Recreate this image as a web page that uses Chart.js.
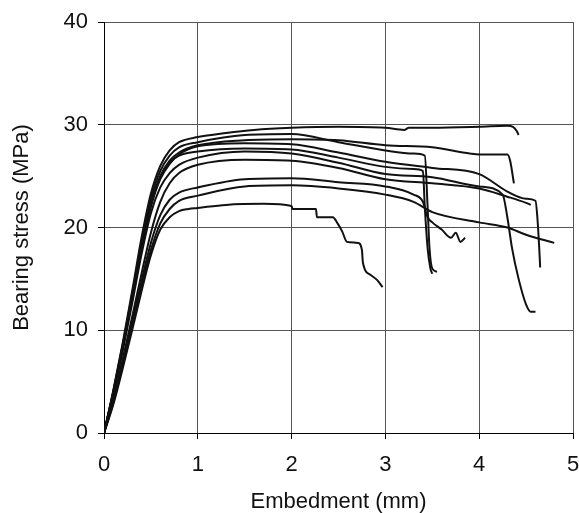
<!DOCTYPE html>
<html>
<head>
<meta charset="utf-8">
<script src="https://cdn.jsdelivr.net/npm/chart.js@4.4.1/dist/chart.umd.min.js"></script>
<style>
  body { margin: 0; background: #fff; }
  #wrap { width: 579px; height: 513px; }
</style>
</head>
<body>
<div id="wrap"><canvas id="bearing-chart" width="579" height="513"></canvas></div>
<script>
// specimen curves, embedment (mm) vs bearing stress (MPa)
const aX = [0, 0.1, 0.2, 0.3, 0.4, 0.5, 0.6, 0.7, 0.8, 1.0, 1.3, 1.6, 2.0, 2.5, 3.0, 3.2, 3.25, 3.5, 4.0, 4.3, 4.36, 4.4, 4.42];
const aY = [0, 4.2, 8.8, 13.8, 19.0, 23.3, 26.0, 27.5, 28.3, 28.8, 29.2, 29.5, 29.7, 29.8, 29.7, 29.5, 29.7, 29.7, 29.8, 29.9, 29.8, 29.4, 29.0];

const f1X = [0, 0.1, 0.2, 0.3, 0.4, 0.5, 0.6, 0.7, 0.8, 1.0, 1.5, 2.0, 2.5, 3.0, 3.3, 3.42, 3.45, 3.47, 3.5, 3.55];
const f1Y = [0, 4.1, 8.6, 13.5, 18.6, 22.8, 25.5, 27.0, 27.8, 28.3, 29.0, 29.1, 28.3, 27.5, 27.2, 27.0, 22.0, 18.0, 16.0, 15.7];

const bX = [0, 0.1, 0.2, 0.3, 0.4, 0.5, 0.6, 0.7, 0.8, 1.0, 1.5, 2.0, 2.5, 3.0, 3.5, 3.9, 4.0, 4.3, 4.33, 4.37];
const bY = [0, 4.0, 8.5, 13.3, 18.3, 22.4, 25.0, 26.5, 27.3, 28.0, 28.5, 28.6, 28.5, 28.0, 27.8, 27.2, 27.1, 27.1, 26.5, 24.3];

const f2X = [0, 0.1, 0.2, 0.3, 0.4, 0.5, 0.6, 0.7, 0.8, 1.0, 1.5, 2.0, 2.5, 3.0, 3.3, 3.4, 3.42, 3.45, 3.48, 3.5];
const f2Y = [0, 4.0, 8.4, 13.2, 18.2, 22.2, 24.9, 26.3, 27.0, 27.4, 27.7, 27.6, 26.8, 25.9, 25.7, 25.5, 22.0, 18.0, 16.0, 15.5];

const cX = [0, 0.1, 0.2, 0.3, 0.4, 0.5, 0.6, 0.7, 0.8, 1.0, 1.5, 2.0, 2.5, 3.0, 3.5, 4.0, 4.3, 4.5, 4.6, 4.62, 4.64, 4.65];
const cY = [0, 3.9, 8.3, 13.1, 18.0, 22.0, 24.7, 26.2, 27.1, 27.9, 28.2, 28.1, 27.3, 26.4, 25.8, 25.2, 23.5, 22.8, 22.6, 21.0, 18.0, 16.1];

const dX = [0, 0.1, 0.2, 0.3, 0.4, 0.5, 0.6, 0.7, 0.8, 1.0, 1.5, 2.0, 2.5, 3.0, 3.5, 4.0, 4.25, 4.3, 4.35, 4.42, 4.5, 4.55, 4.6];
const dY = [0, 3.8, 8.0, 12.6, 17.4, 21.4, 23.9, 25.3, 26.1, 26.8, 27.4, 27.2, 26.3, 25.2, 24.9, 24.0, 23.2, 21.0, 18.0, 15.0, 12.5, 11.8, 11.8];

const c2X = [0, 0.1, 0.2, 0.3, 0.4, 0.5, 0.6, 0.7, 0.8, 1.0, 1.5, 2.0, 2.5, 3.0, 3.5, 4.0, 4.3, 4.5, 4.55];
const c2Y = [0, 3.2, 7.2, 11.3, 15.5, 19.5, 22.5, 24.3, 25.3, 26.1, 26.6, 26.5, 25.8, 24.7, 24.3, 23.8, 23.0, 22.4, 22.2];

const gX = [0, 0.1, 0.2, 0.3, 0.4, 0.5, 0.6, 0.7, 0.8, 1.0, 1.5, 2.0, 2.5, 3.0, 3.3, 3.4, 3.45, 3.5, 3.6, 3.7, 3.75, 3.8, 3.85];
const gY = [0, 3.1, 6.9, 10.8, 14.8, 18.5, 21.2, 22.7, 23.4, 23.9, 24.7, 24.8, 24.4, 24.0, 23.2, 22.5, 21.0, 20.5, 19.8, 19.0, 19.5, 18.6, 19.0];

const eX = [0, 0.1, 0.2, 0.3, 0.4, 0.5, 0.6, 0.7, 0.8, 1.0, 1.5, 2.0, 2.5, 3.0, 3.3, 3.5, 4.0, 4.3, 4.5, 4.8];
const eY = [0, 3.0, 6.6, 10.4, 14.3, 17.8, 20.4, 21.8, 22.6, 23.1, 24.0, 24.1, 23.8, 23.2, 22.5, 21.5, 20.5, 20.0, 19.3, 18.5];

const hX = [0, 0.1, 0.2, 0.3, 0.4, 0.5, 0.6, 0.7, 0.8, 0.9, 1.0, 1.3, 1.7, 2.0, 2.01, 2.26, 2.27, 2.44, 2.49, 2.54, 2.59, 2.71, 2.75, 2.76, 2.84, 2.91, 2.97];
const hY = [0, 2.8, 6.3, 10.0, 13.8, 17.3, 19.8, 21.0, 21.6, 21.8, 21.9, 22.2, 22.3, 22.1, 21.8, 21.8, 21.0, 21.0, 20.4, 19.6, 18.6, 18.5, 17.8, 16.6, 15.4, 14.9, 14.2];

const xTicks = [0, 1, 2, 3, 4, 5];
const yTicks = [0, 10, 20, 30, 40];

const curves = [[aX, aY], [f1X, f1Y], [bX, bY], [f2X, f2Y], [cX, cY], [dX, dY], [c2X, c2Y], [gX, gY], [eX, eY], [hX, hY]];

const datasets = curves.map(([xs, ys]) => ({
  data: xs.map((x, i) => ({ x: x, y: ys[i] })),
  borderColor: '#111',
  borderWidth: 2,
  pointRadius: 0,
  fill: false,
  cubicInterpolationMode: 'monotone'
}));

const font = { family: 'Liberation Sans, Arial, sans-serif', size: 22 };
const titleFont = { family: 'Liberation Sans, Arial, sans-serif', size: 22, lineHeight: 1.0 };

new Chart(document.getElementById('bearing-chart'), {
  type: 'line',
  data: { datasets: datasets },
  options: {
    responsive: false,
    animation: false,
    layout: { padding: { top: 22, right: 6, left: 0, bottom: 0 } },
    plugins: { legend: { display: false }, tooltip: { enabled: false } },
    scales: {
      x: {
        type: 'linear',
        min: 0, max: 5,
        afterBuildTicks: (s) => { s.ticks = xTicks.map(v => ({ value: v })); },
        afterFit: (s) => { s.height = 80; s.paddingRight = 0; s.paddingLeft = 0; },
        grid: { color: '#555', lineWidth: 1, tickLength: 6, tickColor: '#000' },
        border: { color: '#000', width: 1 },
        ticks: { color: '#111', font: font, padding: 13, maxRotation: 0 },
        title: { display: true, text: 'Embedment (mm)', color: '#111', font: titleFont, padding: { top: 4, bottom: 0 } }
      },
      y: {
        type: 'linear',
        min: 0, max: 40,
        afterBuildTicks: (s) => { s.ticks = yTicks.map(v => ({ value: v })); },
        afterFit: (s) => { s.width = 104; s.paddingTop = 0; s.paddingBottom = 0; },
        grid: { color: '#555', lineWidth: 1, tickLength: 6, tickColor: '#000' },
        border: { color: '#000', width: 1 },
        ticks: { color: '#111', font: font, padding: 10 },
        title: { display: true, text: 'Bearing stress (MPa)', color: '#111', font: font, padding: { top: 9, bottom: 4 } }
      }
    }
  }
});
</script>
</body>
</html>
